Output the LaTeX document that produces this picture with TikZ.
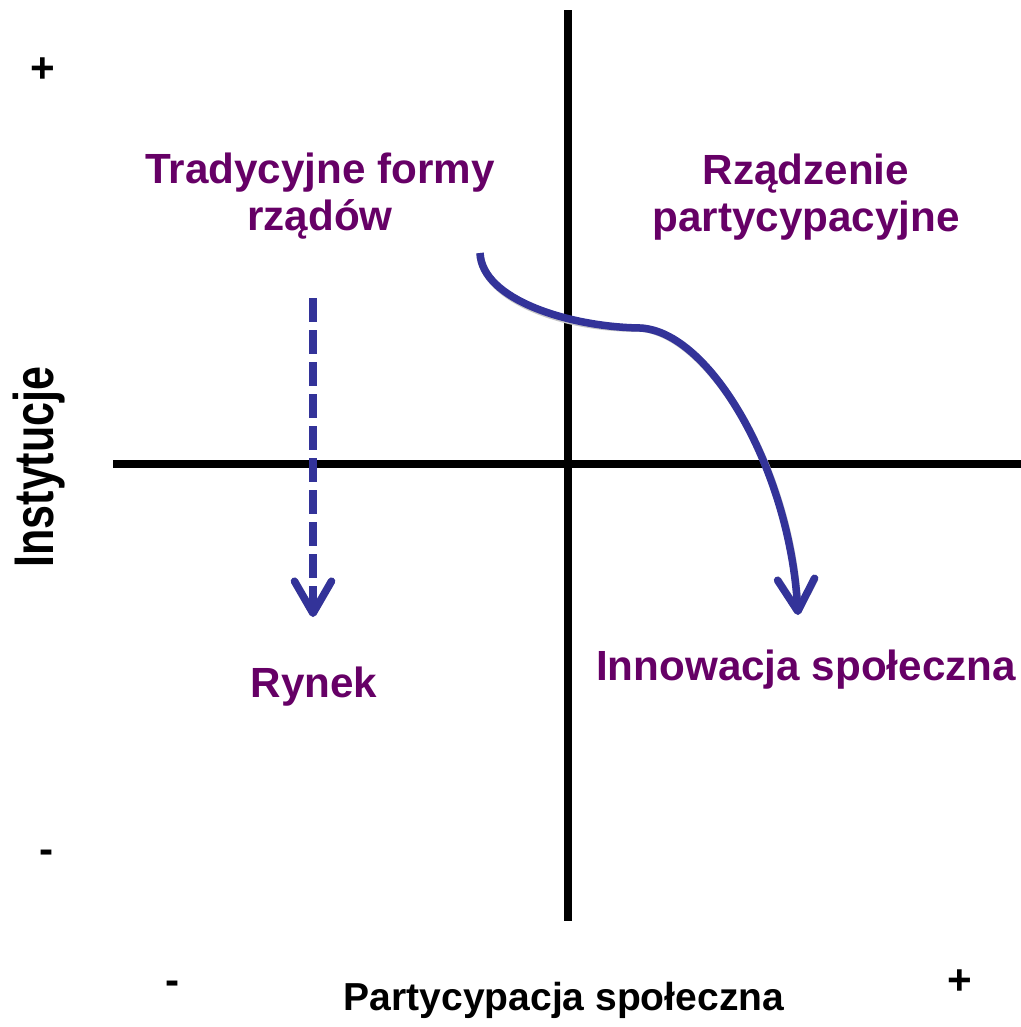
\documentclass[tikz,border=0pt]{standalone}
\usepackage{fontspec}
\setmainfont{Liberation Sans}
\usepackage{graphicx}
\usetikzlibrary{arrows.meta}
\definecolor{lblue}{RGB}{51,51,153}
\definecolor{lpurple}{RGB}{102,0,102}
\begin{document}
\begin{tikzpicture}[x=0.01cm,y=-0.01cm,
  axis/.style={line width=0.08cm, black},
  qlabel/.style={text=lpurple, font=\fontsize{12}{13.4}\selectfont\bfseries, align=center, inner sep=0},
  sign/.style={font=\fontsize{12}{13.4}\selectfont\bfseries, inner sep=0},
  flow/.style={line width=0.075cm, draw=lblue, -{Straight Barb[length=0.32cm,width=0.37cm,round]}},
  shadowflow/.style={flow, draw=black!22},
  dashflow/.style={dash pattern=on 0.24cm off 0.08cm}
]
\useasboundingbox (0,0) rectangle (1021,1027);

% axes
\coordinate (vtop) at (568,10);
\coordinate (vbot) at (568,921);
\coordinate (hleft) at (113,464);
\coordinate (hright) at (1021,464);
\draw[axis] (vtop) -- (vbot);
\draw[axis] (hleft) -- (hright);

% signs
\node[sign] (yplus) at (43,70) {+};
\node[sign] (yminus) at (47,857) {-};
\node[sign] (xminus) at (173,988) {-};
\node[sign] (xplus) at (960,982) {+};

% axis titles
\node[inner sep=0, anchor=base, rotate=90, font=\fontsize{15.9}{16}\selectfont\bfseries] (ytitle) at (53,467) {\scalebox{0.77}[1]{Instytucje}};
\node[inner sep=0, anchor=base, font=\fontsize{11.1}{12}\selectfont\bfseries] (xtitle) at (564,1010) {Partycypacja społeczna};

% quadrant labels
\node[qlabel, anchor=north] (trad) at (320,152) {Tradycyjne formy\\rządów};
\node[qlabel, anchor=north] (rzad) at (806,153) {Rządzenie\\partycypacyjne};
\node[qlabel, anchor=base] (rynek) at (314,697) {Rynek};
\node[qlabel, anchor=base] (innow) at (806,680) {Innowacja społeczna};

% arrows
\coordinate (d1) at (313,298);
\coordinate (d2) at (313,617);
\coordinate (c1) at (480,253);
\coordinate (c2) at (640,328);
\coordinate (c3) at (798,615);

\begin{scope}[shift={(1.5,2.5)}]
\draw[shadowflow, dashflow] (d1) -- (d2);
\draw[shadowflow] (c1) .. controls (482,300) and (570,327) .. (c2) .. controls (710,331) and (790,470) .. (c3);
\end{scope}
\draw[flow, dashflow] (d1) -- (d2);
\draw[flow] (c1) .. controls (482,300) and (570,327) .. (c2) .. controls (710,331) and (790,470) .. (c3);
\end{tikzpicture}
\end{document}
